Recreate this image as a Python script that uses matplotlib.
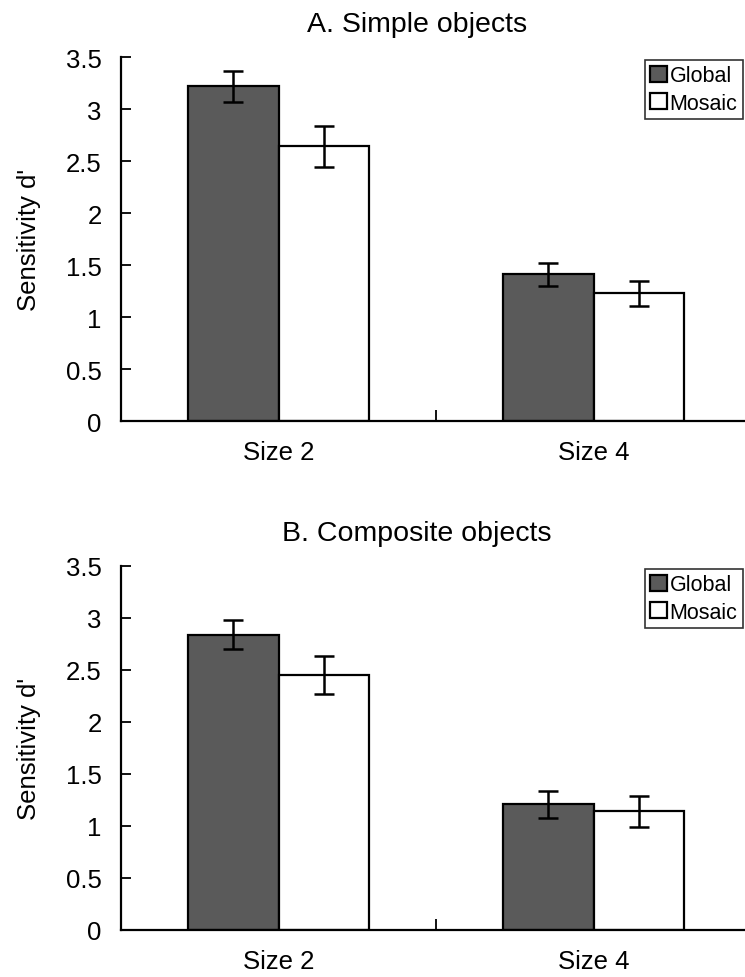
import matplotlib.pyplot as plt
import numpy as np

plt.rcParams['font.family'] = ['Liberation Sans', 'DejaVu Sans']

categories = ["Size 2", "Size 4"]
series = ["Global", "Mosaic"]

# panel A: simple objects
simple_global = [3.22, 1.41]
simple_global_err = [0.15, 0.11]
simple_mosaic = [2.64, 1.23]
simple_mosaic_err = [0.20, 0.12]

# panel B: composite objects
comp_global = [2.84, 1.21]
comp_global_err = [0.14, 0.13]
comp_mosaic = [2.45, 1.14]
comp_mosaic_err = [0.18, 0.15]

titles = ["A. Simple objects", "B. Composite objects"]
yticks = [0, 0.5, 1, 1.5, 2, 2.5, 3, 3.5]
ytick_labels = ["0", "0.5", "1", "1.5", "2", "2.5", "3", "3.5"]

W, H = 745, 978
fig = plt.figure(figsize=(W / 100, H / 100), dpi=100)

panels = [
    (simple_global, simple_global_err, simple_mosaic, simple_mosaic_err, 422, 58),
    (comp_global, comp_global_err, comp_mosaic, comp_mosaic_err, 931, 567),
]

x = np.arange(len(categories))
bw = 0.286

for k, (g, ge, m, me, ybot, ytop) in enumerate(panels):
    ax = fig.add_axes([121 / W, 1 - ybot / H, 630 / W, (ybot - ytop) / H])
    ax.bar(x - bw / 2, g, bw, color="#5a5a5a", edgecolor="black", linewidth=1.6,
           label=series[0], zorder=2)
    ax.bar(x + bw / 2, m, bw, color="white", edgecolor="black", linewidth=1.6,
           label=series[1], zorder=2)
    ax.errorbar(x - bw / 2, g, yerr=ge, fmt="none", ecolor="black", elinewidth=1.8,
                capsize=7, capthick=1.8, zorder=3)
    ax.errorbar(x + bw / 2, m, yerr=me, fmt="none", ecolor="black", elinewidth=1.8,
                capsize=7, capthick=1.8, zorder=3)

    ax.set_xlim(-0.5, 1.5)
    ax.set_ylim(0, 3.5)
    ax.set_yticks(yticks)
    ax.set_yticklabels(ytick_labels)
    ax.set_xticks(x)
    ax.set_xticklabels(categories)
    ax.set_xticks([0.5], minor=True)
    ax.tick_params(axis="x", which="major", length=0, pad=14, labelsize=18.5)
    ax.tick_params(axis="x", which="minor", direction="in", length=8, width=1.3)
    ax.tick_params(axis="y", direction="in", length=7, width=1.3, pad=14, labelsize=18.5)
    for s in ["top", "right"]:
        ax.spines[s].set_visible(False)
    for s in ["left", "bottom"]:
        ax.spines[s].set_linewidth(1.6)
    ax.set_ylabel("Sensitivity d'", fontsize=18.5)
    ax.yaxis.set_label_coords(-80 / 630, 0.5)
    ax.set_title(titles[k], fontsize=20.5, pad=19, x=0.47)

    leg = ax.legend(loc="upper right", bbox_to_anchor=(743 / W, 1 - (ytop + 3) / H),
                    bbox_transform=fig.transFigure, fontsize=15.5, frameon=True,
                    fancybox=False, edgecolor="black", handlelength=0.75,
                    handleheight=0.75, handletextpad=0.15, borderpad=0.25,
                    labelspacing=0.3, borderaxespad=0)
    leg.get_frame().set_linewidth(1.2)

fig.savefig("out.png", dpi=100)
